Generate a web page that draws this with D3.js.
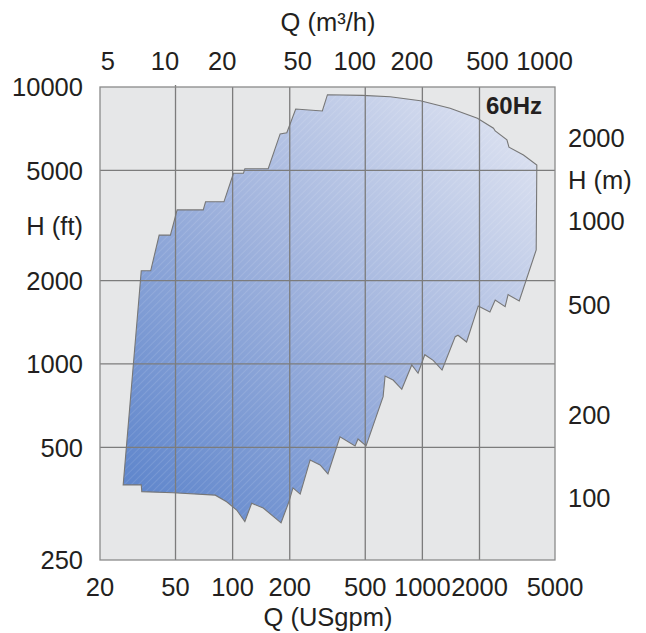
<!DOCTYPE html>
<html>
<head>
<meta charset="utf-8">
<script src="https://cdn.jsdelivr.net/npm/d3@7"></script>
<style>
  html, body { margin: 0; background: #fff; }
  svg { display: block; font-family: 'Liberation Sans', Arial, sans-serif; }
</style>
</head>
<body>
<svg id="chart" width="646" height="633"></svg>
<script>
// pump range envelope, traced clockwise from the lower-left corner (Q in USgpm, H in ft)
const envelopeQ = [26.5, 33, 37, 41, 47, 51, 70, 72, 90, 101, 114, 116, 154, 178, 193, 215, 297, 316,
  483, 676, 976, 1400, 1950, 2370, 2420, 2790, 2860, 3410, 4010,
  3980, 3240, 2830, 2730, 2420, 2270, 1970, 1710, 1540, 1490, 1270, 1140, 1030, 949, 879, 779, 701, 636, 621,
  505, 458, 442, 368, 318, 289, 256, 227, 208, 198, 180, 145, 126, 116, 105, 93, 81, 48.5, 33.2, 33];
const envelopeH = [366, 2170, 2170, 2920, 2920, 3600, 3600, 3850, 3850, 4880, 4880, 5070, 5070, 6770, 6840, 8330, 8190, 9380,
  9330, 9220, 8920, 8380, 7710, 7100, 6940, 6440, 6060, 5680, 5230,
  2580, 1690, 1780, 1610, 1700, 1540, 1620, 1200, 1270, 1255, 951, 1030, 1080, 926, 992, 810, 875, 905, 762,
  506, 536, 506, 546, 401, 432, 450, 339, 357, 318, 267, 302, 314, 270, 297, 318, 336, 343, 346, 366];

const qTicksGpm = [20, 50, 100, 200, 500, 1000, 2000, 5000];
const qTicksM3h = [5, 10, 20, 50, 100, 200, 500, 1000];
const hTicksFt = [10000, 5000, 2000, 1000, 500];
const hTicksM = [2000, 1000, 500, 200, 100];
const gridQ = [50, 100, 200, 500, 1000, 2000];
const gridH = [5000, 2000, 1000, 500];

const qDomain = [20, 5000];
const hDomain = [196, 10000];
const bottomLabelFt = '250'; // printed at the frame's lower edge in the reference
const GPM_PER_M3H = 4.40287;
const FT_PER_M = 3.28084;

const svg = d3.select('#chart');
const x = d3.scaleLog().domain(qDomain).range([100, 555]);
const y = d3.scaleLog().domain(hDomain).range([560, 87]);

const textColor = '#231f20';
const gridColor = '#7c7c7c';

const defs = svg.append('defs');
const grad = defs.append('linearGradient')
  .attr('id', 'fillGrad')
  .attr('x1', 0).attr('y1', 1).attr('x2', 1).attr('y2', 0);
grad.append('stop').attr('offset', 0).attr('stop-color', '#5881ca');
grad.append('stop').attr('offset', 0.5).attr('stop-color', '#a0b3dd');
grad.append('stop').attr('offset', 1).attr('stop-color', '#e3e7f3');

const hatch = defs.append('pattern')
  .attr('id', 'hatch')
  .attr('patternUnits', 'userSpaceOnUse')
  .attr('width', 5).attr('height', 5)
  .attr('patternTransform', 'rotate(45)');
hatch.append('line')
  .attr('x1', 0).attr('y1', 0).attr('x2', 0).attr('y2', 5)
  .attr('stroke', '#fff').attr('stroke-opacity', 0.28).attr('stroke-width', 0.8);

// plot frame
svg.append('rect')
  .attr('x', x(qDomain[0])).attr('y', y(hDomain[1]))
  .attr('width', x(qDomain[1]) - x(qDomain[0]))
  .attr('height', y(hDomain[0]) - y(hDomain[1]))
  .attr('fill', '#e6e7e8');

// envelope
const envelope = envelopeQ.map((q, i) => ({ q, h: envelopeH[i] }));
const line = d3.line().x(d => x(d.q)).y(d => y(d.h));
const path = line(envelope) + 'Z';
svg.append('path').attr('d', path).attr('fill', 'url(#fillGrad)');
svg.append('path').attr('d', path).attr('fill', 'url(#hatch)');

// grid
svg.append('g')
  .attr('stroke', gridColor).attr('stroke-width', 1.3)
  .selectAll('line')
  .data(gridQ)
  .join('line')
  .attr('x1', d => x(d)).attr('x2', d => x(d))
  .attr('y1', d => y(hDomain[1]) - (d === 50 ? 2 : 0)).attr('y2', y(hDomain[0]));
svg.append('g')
  .attr('stroke', gridColor).attr('stroke-width', 1.3)
  .selectAll('line')
  .data(gridH)
  .join('line')
  .attr('y1', d => y(d)).attr('y2', d => y(d))
  .attr('x1', x(qDomain[0])).attr('x2', x(qDomain[1]));

svg.append('path').attr('d', path)
  .attr('fill', 'none').attr('stroke', '#777').attr('stroke-width', 1.1);

svg.append('rect')
  .attr('x', x(qDomain[0])).attr('y', y(hDomain[1]))
  .attr('width', x(qDomain[1]) - x(qDomain[0]))
  .attr('height', y(hDomain[0]) - y(hDomain[1]))
  .attr('fill', 'none').attr('stroke', '#8a8a8a').attr('stroke-width', 1.3);

// labels
const labels = svg.append('g').attr('fill', textColor).attr('font-size', 25.5);

labels.append('g')
  .attr('text-anchor', 'middle')
  .selectAll('text')
  .data(qTicksGpm)
  .join('text')
  .attr('x', d => x(d))
  .attr('y', 596)
  .text(d => d);

labels.append('g')
  .attr('text-anchor', 'middle')
  .selectAll('text')
  .data(qTicksM3h)
  .join('text')
  .attr('x', d => x(d * GPM_PER_M3H))
  .attr('y', 70)
  .text(d => d);

labels.append('g')
  .attr('text-anchor', 'end')
  .selectAll('text')
  .data(hTicksFt)
  .join('text')
  .attr('x', 83)
  .attr('y', d => y(d))
  .attr('dy', '0.36em')
  .text(d => d);
labels.append('text')
  .attr('text-anchor', 'end')
  .attr('x', 83).attr('y', y(hDomain[0])).attr('dy', '0.36em')
  .text(bottomLabelFt);

labels.append('g')
  .attr('text-anchor', 'start')
  .selectAll('text')
  .data(hTicksM)
  .join('text')
  .attr('x', 568)
  .attr('y', d => y(d * FT_PER_M))
  .attr('dy', '0.36em')
  .text(d => d);

labels.append('text').attr('text-anchor', 'middle').attr('x', 328).attr('y', 626).text('Q (USgpm)');
labels.append('text').attr('text-anchor', 'middle').attr('x', 328).attr('y', 31).text('Q (m³/h)');
labels.append('text').attr('text-anchor', 'end').attr('x', 83).attr('y', 226).attr('dy', '0.36em').text('H (ft)');
labels.append('text').attr('text-anchor', 'start').attr('x', 568).attr('y', 180).attr('dy', '0.36em').text('H (m)');

svg.append('text')
  .attr('text-anchor', 'end')
  .attr('x', 542).attr('y', 114)
  .attr('font-size', 24).attr('font-weight', 'bold')
  .attr('fill', textColor)
  .text('60Hz');
</script>
</body>
</html>
